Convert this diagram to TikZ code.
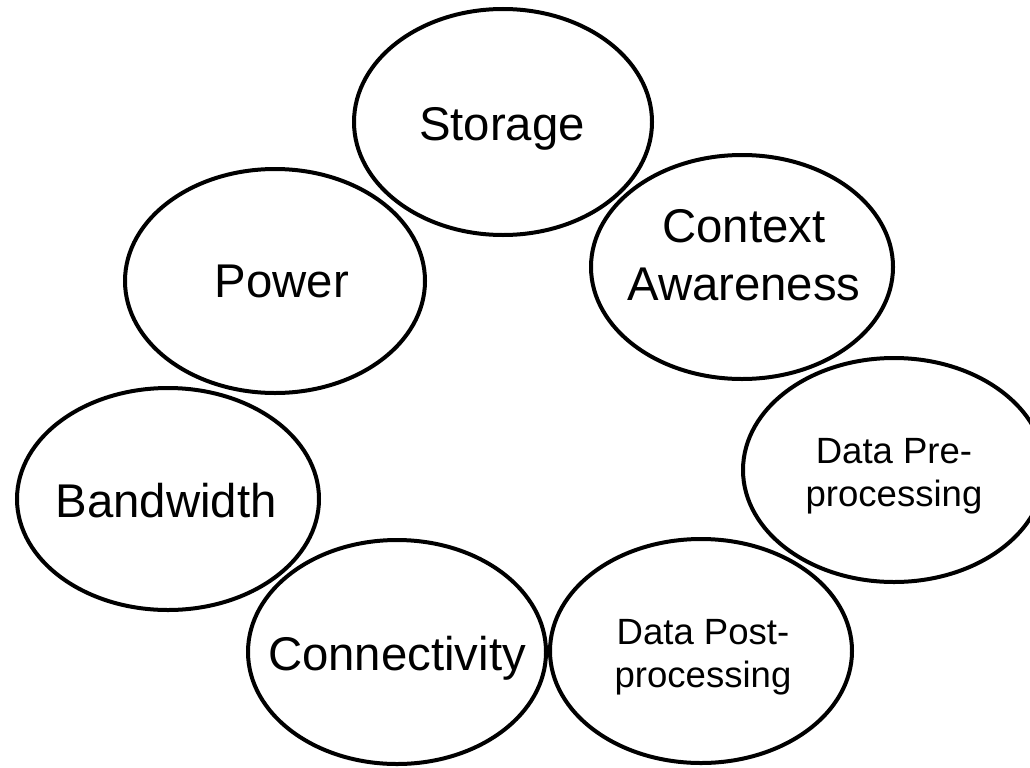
\documentclass[tikz,border=0pt]{standalone}
\usepackage{fontspec}
\setmainfont{Liberation Sans}
\begin{document}
\begin{tikzpicture}[x=0.75pt,y=0.75pt,yscale=-1,xscale=1,
  bubble/.style={line width=3pt},
  bigtxt/.style={inner sep=0.75pt,align=center,font=\fontsize{35.5}{43.5}\selectfont},
  smalltxt/.style={inner sep=0.75pt,align=center,font=\fontsize{27.4}{32}\selectfont}]
\useasboundingbox (0,0) rectangle (1030,767);

%Shape: Ellipse
\draw [bubble] (503,122) ellipse (149 and 113);
%Shape: Ellipse
\draw [bubble] (275,281) ellipse (150 and 112);
%Shape: Ellipse
\draw [bubble] (742,267) ellipse (151 and 112);
%Shape: Ellipse
\draw [bubble] (894,470) ellipse (151 and 112);
%Shape: Ellipse
\draw [bubble] (168,499) ellipse (151 and 111);
%Shape: Ellipse
\draw [bubble] (397,652) ellipse (149 and 112);
%Shape: Ellipse
\draw [bubble] (701,651) ellipse (151 and 112);

% Text Node
\draw (502,140) node [anchor=base][bigtxt] (storage) {Storage};
% Text Node
\draw (282,297) node [anchor=base][bigtxt] (power) {Power};
% Text Node
\draw (744,255) node [bigtxt] (context) {Context\\Awareness};
% Text Node
\draw (894,476) node [smalltxt] (preproc) {Data Pre-\\processing};
% Text Node
\draw (166,517) node [anchor=base][bigtxt] (bandwidth) {Bandwidth};
% Text Node
\draw (397,670) node [anchor=base][bigtxt] (connect) {Connectivity};
% Text Node
\draw (703,657) node [smalltxt] (postproc) {Data Post-\\processing};

\end{tikzpicture}
\end{document}
